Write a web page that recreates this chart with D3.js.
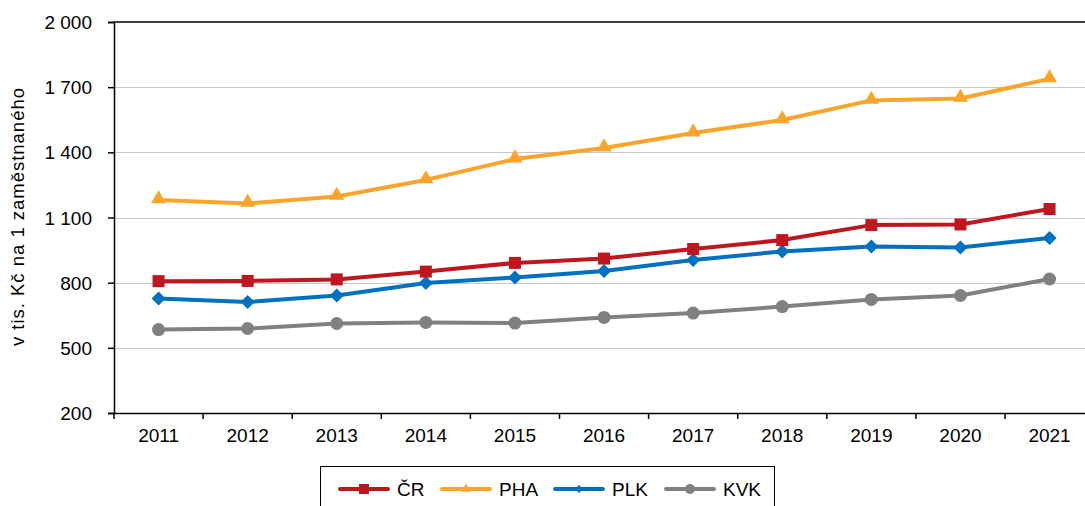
<!doctype html>
<html lang=cs>
<head>
<meta charset=utf-8>
<title>Chart</title>
<script src="https://d3js.org/d3.v7.min.js"></script>
<style>
  body { margin: 0; background: #fff; }
  svg { font-family: "Liberation Sans", Arial, sans-serif; }
</style>
</head>
<body>
<div id="container"></div>
<script>
    var years = ["2011","2012","2013","2014","2015","2016","2017","2018","2019","2020","2021"];
    var cr  = [807, 808, 815, 851, 891, 911, 955, 996, 1065, 1068, 1139];
    var pha = [1181, 1165, 1197, 1273, 1369, 1420, 1489, 1549, 1639, 1648, 1738];
    var plk = [727, 711, 741, 798, 824, 854, 904, 944, 967, 962, 1006];
    var kvk = [584, 589, 612, 617, 614, 640, 660, 690, 723, 741, 817];
    var yTicks = [200, 500, 800, 1100, 1400, 1700, 2000];
    var seriesNames = ["ČR", "PHA", "PLK", "KVK"];

    var series = [
        {name: seriesNames[0], values: cr,  color: "#c0161f", marker: "square"},
        {name: seriesNames[1], values: pha, color: "#f9a42a", marker: "triangle"},
        {name: seriesNames[2], values: plk, color: "#0070c0", marker: "diamond"},
        {name: seriesNames[3], values: kvk, color: "#808080", marker: "circle"}
    ];

    var w = 1085, h = 506;
    var plotLeft = 114, plotTop = 22, plotBottom = 413;
    var fs = 19;

    var svg = d3.select("#container").append("svg")
        .attr("width", w).attr("height", h);

    var x = d3.scaleBand().domain(years).range([plotLeft, plotLeft + 89.1 * years.length]);
    var y = d3.scaleLinear().domain([200, 2000]).range([plotBottom, plotTop]);

    // gridlines
    svg.append("g").selectAll("line")
        .data(yTicks.slice(1, -1))
        .enter().append("line")
        .attr("x1", plotLeft).attr("x2", w)
        .attr("y1", function(d) { return Math.round(y(d)) + 0.5; })
        .attr("y2", function(d) { return Math.round(y(d)) + 0.5; })
        .attr("stroke", "#c8c8c8").attr("stroke-width", 1);

    // top border
    svg.append("line")
        .attr("x1", plotLeft).attr("x2", w)
        .attr("y1", plotTop).attr("y2", plotTop)
        .attr("stroke", "#000").attr("stroke-width", 1.5);

    var fmt = function(d) { return d3.format(",")(d).replace(/,/g, " "); };

    var yAxis = svg.append("g")
        .attr("transform", "translate(" + plotLeft + ",0)")
        .call(d3.axisLeft(y).tickValues(yTicks).tickSize(6).tickFormat(fmt));
    yAxis.select(".domain").attr("stroke", "#000").attr("stroke-width", 1.5);
    yAxis.selectAll(".tick line").attr("stroke", "#000").attr("stroke-width", 1.5);
    yAxis.selectAll(".tick text").attr("font-size", fs).attr("fill", "#000")
        .attr("x", -22).attr("dy", "0.35em")
        .attr("font-family", "Liberation Sans, Arial, sans-serif");

    var xAxis = svg.append("g")
        .attr("transform", "translate(0," + plotBottom + ")")
        .call(d3.axisBottom(x).tickSize(0).tickSizeOuter(0));
    xAxis.select(".domain").attr("stroke", "#000").attr("stroke-width", 1.5);
    xAxis.selectAll(".tick text").attr("font-size", fs).attr("fill", "#000")
        .attr("y", 16).attr("font-family", "Liberation Sans, Arial, sans-serif");

    // category boundary ticks
    svg.append("g").selectAll("line")
        .data(years)
        .enter().append("line")
        .attr("x1", function(d) { return x(d); })
        .attr("x2", function(d) { return x(d); })
        .attr("y1", plotBottom).attr("y2", plotBottom + 6)
        .attr("stroke", "#000").attr("stroke-width", 1.5);

    svg.append("text")
        .attr("transform", "translate(24," + 217 + ") rotate(-90)")
        .attr("text-anchor", "middle")
        .attr("font-size", 18.5)
        .attr("textLength", 258)
        .attr("lengthAdjust", "spacing")
        .text("v tis. Kč na 1 zaměstnaného");

    function drawMarker(g, type, color, cx, cy) {
        if (type === "square") {
            g.append("rect").attr("x", cx - 6).attr("y", cy - 6)
                .attr("width", 12).attr("height", 12).attr("fill", color);
        } else if (type === "triangle") {
            g.append("path").attr("d", d3.symbol().type(d3.symbolTriangle).size(100)())
                .attr("transform", "translate(" + cx + "," + (cy - 1) + ")").attr("fill", color);
        } else if (type === "diamond") {
            g.append("path").attr("d", "M0,-7L7,0L0,7L-7,0Z")
                .attr("transform", "translate(" + cx + "," + cy + ")").attr("fill", color);
        } else {
            g.append("circle").attr("cx", cx).attr("cy", cy).attr("r", 6.5).attr("fill", color);
        }
    }

    var line = d3.line()
        .x(function(d, i) { return x(years[i]) + x.bandwidth() / 2; })
        .y(function(d) { return y(d); });

    series.slice().reverse().forEach(function(s) {
        var g = svg.append("g");
        g.append("path").datum(s.values)
            .attr("d", line)
            .attr("fill", "none")
            .attr("stroke", s.color)
            .attr("stroke-width", 4)
            .attr("stroke-linejoin", "round");
        s.values.forEach(function(v, i) {
            drawMarker(g, s.marker, s.color, x(years[i]) + x.bandwidth() / 2, y(v));
        });
    });

    // legend
    var legend = svg.append("g");
    legend.append("rect")
        .attr("x", 320.5).attr("y", 466.5).attr("width", 454).attr("height", 50)
        .attr("fill", "#fff").attr("stroke", "#000").attr("stroke-width", 1);
    var legendX = [340, 442, 555, 666];
    series.forEach(function(s, i) {
        var lx = legendX[i], ly = 489;
        legend.append("line").attr("x1", lx).attr("x2", lx + 48)
            .attr("y1", ly).attr("y2", ly)
            .attr("stroke", s.color).attr("stroke-width", 4).attr("stroke-linecap", "round");
        var g = legend.append("g");
        if (s.marker === "square") {
            g.append("rect").attr("x", lx + 19).attr("y", ly - 5).attr("width", 10).attr("height", 10).attr("fill", s.color);
        } else if (s.marker === "triangle") {
            g.append("path").attr("d", d3.symbol().type(d3.symbolTriangle).size(40)())
                .attr("transform", "translate(" + (lx + 24) + "," + ly + ")").attr("fill", s.color);
        } else if (s.marker === "diamond") {
            g.append("path").attr("d", "M0,-4L4,0L0,4L-4,0Z")
                .attr("transform", "translate(" + (lx + 24) + "," + ly + ")").attr("fill", s.color);
        } else {
            g.append("circle").attr("cx", lx + 24).attr("cy", ly).attr("r", 5).attr("fill", s.color);
        }
        legend.append("text").attr("x", lx + 57).attr("y", ly + 7)
            .attr("font-size", fs).text(s.name);
    });
</script>
</body>
</html>
